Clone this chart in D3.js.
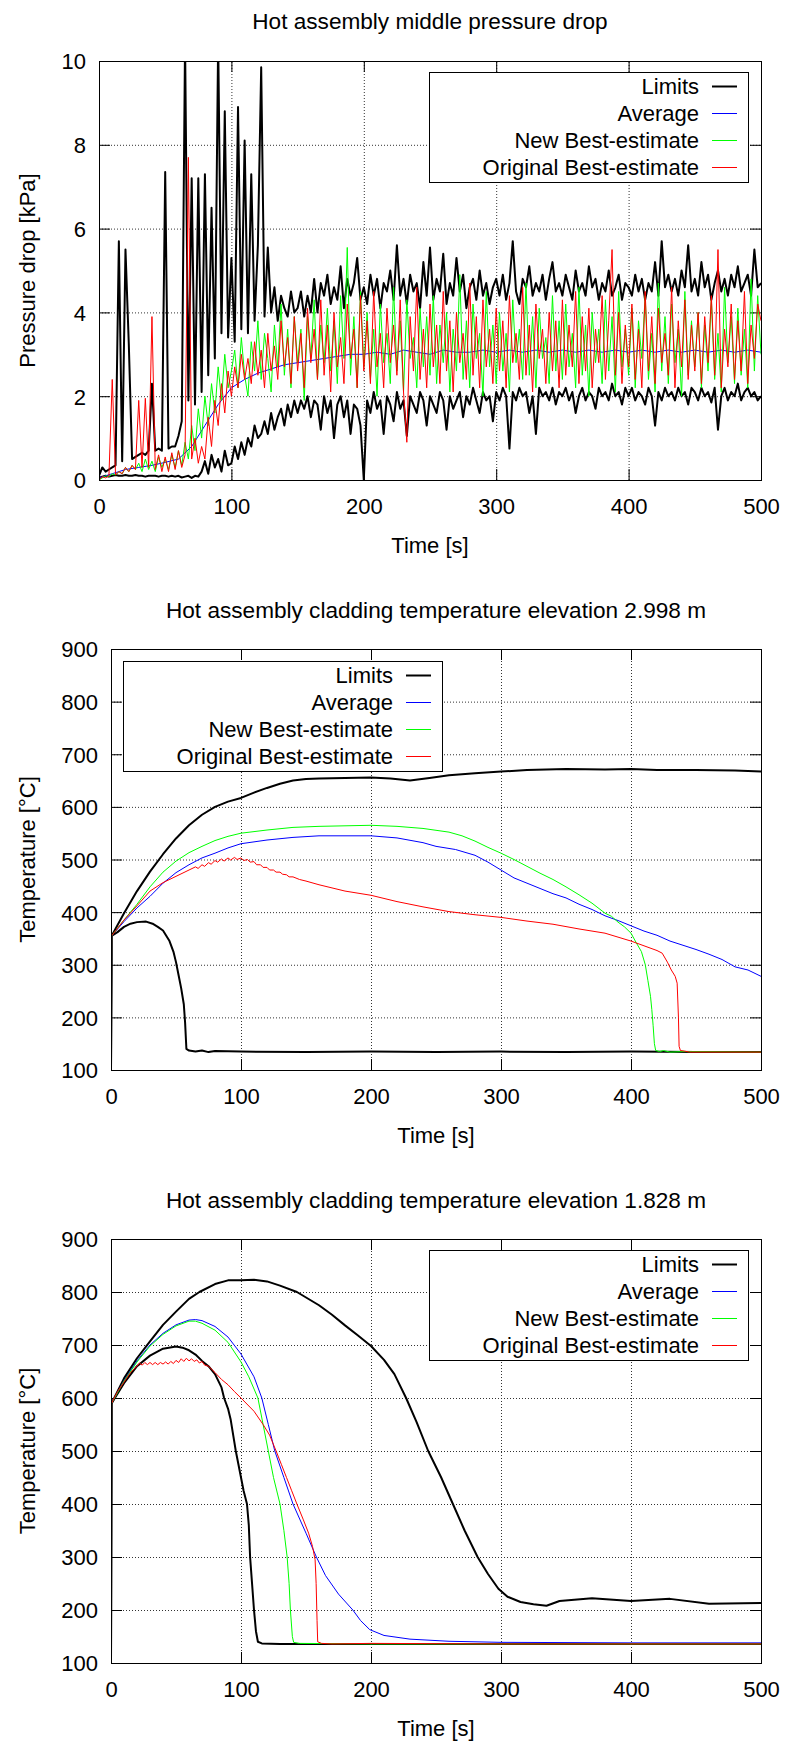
<!DOCTYPE html>
<html>
<head>
<meta charset="utf-8">
<script src="https://cdn.jsdelivr.net/npm/d3@7"></script>
<style>
  body { margin: 0; background: #fff; }
  text { font-family: "Liberation Sans", Arial, sans-serif; }
</style>
</head>
<body>
<svg id="fig" width="786" height="1742"></svg>
<script>

// LEGEND / SERIES NAMES
var seriesNames = ["Limits", "Average", "New Best-estimate", "Original Best-estimate"]

var timeTicks = [0, 100, 200, 300, 400, 500]
var dpTicks = [0, 2, 4, 6, 8, 10]
var tempTicks = [100, 200, 300, 400, 500, 600, 700, 800, 900]

/* ---------- PANEL 1 : pressure drop, one sample every 2.5 s (0..500) ---------- */

var dpTime = d3.range(0, 500.01, 2.5)   // sampling grid of the read-off values

var dpLimitsUpper = [
  0.1, 0.3, 0.2, 0.25, 0.3, 0.35, 5.7, 0.45, 5.5, 3.25, 0.5, 0.55, 0.6, 0.65, 0.6, 0.7, 2.3, 0.7, 0.75, 0.7,
  7.35, 0.75, 0.8, 0.8, 1.05, 1.4, 10.5, 1.9, 7.2, 1.8, 7.2, 2.1, 7.3, 2.5, 6.5, 2.9, 10.5, 3.5, 8.8, 3.4,
  5.3, 3.3, 8.9, 3.6, 8.1, 3.5, 7.3, 3.8, 5.6, 9.85, 3.9, 5.55, 4.0, 4.6, 3.8, 4.4, 4.1, 3.9, 4.5, 4.0,
  4.1, 4.5, 3.9, 4.4, 4.0, 4.8, 4.0, 4.7, 4.4, 4.9, 4.2, 4.6, 4.3, 5.1, 4.1, 4.8, 4.4, 4.7, 5.3, 4.3,
  4.6, 4.2, 4.9, 4.4, 4.8, 4.1, 4.7, 4.5, 5.0, 4.3, 5.6, 4.4, 4.8, 4.2, 4.9, 4.5, 4.7, 4.1, 5.2, 4.4,
  5.55, 4.3, 4.8, 4.5, 5.4, 4.2, 4.7, 4.4, 5.3, 4.5, 4.9, 4.1, 4.6, 4.8, 4.3, 5.0, 4.4, 4.7, 4.2, 4.6,
  4.8, 4.4, 4.9, 4.3, 4.7, 5.7, 4.5, 4.2, 4.8, 4.6, 5.1, 4.4, 4.7, 4.5, 4.9, 4.3, 4.8, 5.2, 4.5, 4.7,
  4.4, 4.9, 4.6, 4.3, 5.0, 4.5, 4.7, 4.4, 5.1, 4.6, 4.8, 4.3, 4.7, 4.5, 5.0, 4.4, 4.6, 4.9, 4.3, 4.7,
  4.6, 4.4, 4.9, 4.5, 4.8, 4.3, 4.7, 4.5, 5.2, 4.4, 5.7, 4.6, 4.9, 4.5, 4.8, 4.4, 5.0, 4.6, 5.6, 4.5,
  4.8, 4.4, 5.2, 4.6, 4.9, 4.3, 4.7, 5.0, 4.5, 4.8, 4.4, 4.9, 4.6, 5.1, 4.5, 4.7, 4.9, 4.4, 5.5, 4.6, 4.7
]

var dpLimitsLower = [
  0.05, 0.08, 0.1, 0.08, 0.1, 0.12, 0.1, 0.1, 0.12, 0.1, 0.1, 0.12, 0.1, 0.1, 0.08, 0.1, 0.1, 0.1, 0.08, 0.1,
  0.1, 0.08, 0.1, 0.08, 0.1, 0.06, 0.08, 0.1, 0.05, 0.1, 0.08, 0.2, 0.45, 0.15, 0.6, 0.3, 0.5, 0.2, 0.7, 0.35,
  0.4, 0.8, 0.5, 0.9, 0.6, 1.0, 0.8, 1.3, 1.0, 1.1, 1.4, 1.1, 1.6, 1.2, 1.5, 1.7, 1.3, 1.8, 1.5, 1.9,
  1.6, 1.9, 1.7, 2.0, 1.5, 1.9, 1.8, 1.2, 2.0, 1.6, 1.9, 1.0, 1.8, 2.0, 1.5, 1.9, 1.1, 1.8, 1.7, 1.3,
  0.0, 1.9, 1.6, 2.1, 1.7, 1.9, 1.1, 2.0, 1.8, 1.4, 2.1, 1.7, 1.9, 1.05, 2.0, 1.8, 1.6, 2.1, 1.9, 1.3,
  2.0, 1.8, 1.6, 2.1, 1.9, 1.2, 2.0, 1.7, 1.9, 2.1, 1.5, 2.0, 1.8, 2.2, 1.9, 1.6, 2.1, 1.9, 2.0, 1.4,
  2.1, 1.9, 2.2, 2.0, 0.75, 2.1, 1.9, 2.2, 2.0, 2.1, 1.6, 2.0, 1.1, 2.2, 2.0, 2.1, 1.9, 2.2, 1.8, 2.1,
  2.0, 2.2, 1.9, 2.1, 1.6, 2.0, 2.2, 1.9, 2.1, 2.0, 1.7, 2.2, 2.0, 2.1, 1.9, 2.3, 2.0, 2.1, 1.8, 2.2,
  2.0, 2.2, 1.9, 2.1, 2.0, 1.8, 2.2, 2.0, 1.3, 2.1, 1.9, 2.2, 2.0, 2.1, 1.9, 2.2, 2.0, 2.1, 1.8, 2.2,
  2.1, 1.9, 2.2, 2.0, 2.1, 1.85, 2.2, 1.2, 2.0, 2.2, 1.9, 2.1, 2.0, 2.3, 1.9, 2.1, 2.2, 2.0, 2.1, 1.9, 2.0
]

var dpAvgTime = [0, 10, 20, 30, 40, 50, 60, 70, 80, 90, 100, 110, 120, 130, 140, 150, 160, 170, 180, 190,
  200, 210, 220, 230, 240, 250, 260, 270, 280, 290, 300, 310, 320, 330, 340, 350, 360, 370, 380, 390,
  400, 410, 420, 430, 440, 450, 460, 470, 480, 490, 500]
var dpAverage = [0.05, 0.15, 0.25, 0.3, 0.35, 0.42, 0.5, 0.8, 1.3, 1.8, 2.2, 2.4, 2.55, 2.65, 2.75, 2.8, 2.85, 2.9, 2.95, 3.0,
  3.0, 3.05, 3.0, 3.1, 3.05, 3.0, 3.1, 3.05, 3.05, 3.1, 3.05, 3.1, 3.05, 3.1, 3.05, 3.1, 3.05, 3.1, 3.05, 3.1,
  3.05, 3.1, 3.05, 3.1, 3.05, 3.1, 3.05, 3.1, 3.05, 3.1, 3.05]

var dpNew = [
  0.0, 0.05, 0.1, 0.08, 0.15, 0.12, 0.2, 0.15, 0.3, 0.2, 0.35, 0.25, 0.4, 0.2, 0.5, 0.25, 0.45, 0.2, 0.55, 0.3,
  0.5, 0.25, 0.6, 0.3, 0.7, 0.35, 0.9, 0.5, 1.3, 0.7, 1.7, 1.0, 2.0, 1.3, 2.3, 1.6, 2.7, 1.9, 3.0, 2.2,
  2.6, 3.1, 2.2, 3.4, 2.5, 2.0, 3.3, 2.6, 3.8, 2.4, 3.5, 2.9, 2.1, 3.7, 2.7, 4.2, 2.5, 3.6, 2.2, 3.9,
  2.8, 3.6, 1.9, 3.9, 2.9, 4.3, 2.4, 3.7, 2.8, 4.1, 2.6, 3.8, 2.3, 4.4, 2.9, 5.55, 2.5, 3.9, 2.2, 4.5,
  2.7, 4.0, 2.4, 3.6, 2.0, 4.2, 2.8, 3.5, 2.3, 4.6, 2.6, 3.8, 2.1, 4.3, 2.9, 3.4, 2.2, 4.1, 2.7, 3.9,
  2.5, 4.4, 2.3, 3.7, 2.8, 4.0, 2.1, 3.6, 2.6, 4.9, 2.4, 3.8, 2.2, 4.2, 2.9, 3.5, 2.0, 4.5, 2.7, 3.7,
  2.3, 4.0, 2.6, 3.5, 2.1, 4.3, 2.8, 3.6, 2.4, 4.7, 2.5, 3.9, 2.2, 4.1, 2.9, 3.4, 2.3, 4.4, 2.6, 3.8,
  2.4, 4.2, 2.7, 3.5, 2.2, 4.6, 2.5, 3.7, 2.0, 4.0, 2.8, 3.6, 2.3, 4.3, 2.6, 3.9, 2.1, 4.5, 2.7, 3.6,
  2.5, 4.1, 2.2, 3.8, 2.9, 4.4, 2.4, 3.5, 2.1, 4.7, 2.6, 3.9, 2.3, 4.2, 2.8, 3.6, 2.0, 4.5, 2.5, 3.8,
  2.7, 4.0, 2.2, 3.7, 2.6, 4.3, 2.4, 3.5, 2.1, 4.6, 2.8, 3.9, 2.3, 4.1, 2.5, 3.6, 2.2, 4.8, 2.6, 4.4, 3.0
]

var dpOriginal = [
  0.0, 0.08, 0.05, 0.1, 2.4, 0.12, 0.2, 0.15, 0.3, 0.2, 0.35, 0.25, 1.9, 0.3, 1.95, 0.3, 3.9, 0.25, 0.6, 0.2,
  0.55, 0.2, 0.65, 0.25, 0.7, 0.3, 0.6, 7.7, 0.5, 1.0, 0.4, 0.8, 0.5, 1.5, 0.8, 1.9, 1.3, 2.3, 1.6, 2.6,
  2.0, 2.7, 2.2, 3.0, 2.4, 2.9, 2.3, 3.3, 2.5, 3.1, 2.2, 3.5, 2.6, 3.2, 2.4, 3.8, 2.7, 3.4, 2.3, 3.9,
  2.6, 3.5, 2.2, 4.1, 2.8, 3.6, 2.4, 4.3, 2.5, 3.7, 2.1, 4.0, 2.7, 3.4, 2.3, 4.2, 2.9, 3.6, 2.2, 4.4,
  2.6, 3.8, 2.3, 4.5, 2.7, 3.5, 2.2, 4.1, 2.8, 3.7, 2.5, 4.3, 2.1, 0.9, 3.9, 2.6, 4.6, 2.4, 3.6, 2.2,
  4.2, 2.7, 3.7, 2.3, 4.5, 2.6, 3.8, 2.1, 4.0, 2.8, 3.5, 2.4, 4.7, 2.5, 3.9, 2.2, 4.3, 2.7, 3.6, 2.3,
  4.1, 2.6, 3.8, 2.2, 4.4, 2.8, 3.5, 2.4, 4.6, 2.5, 3.7, 2.1, 4.2, 2.9, 3.6, 2.3, 4.0, 2.6, 3.8, 2.2,
  4.3, 2.5, 3.7, 2.7, 4.5, 2.3, 3.9, 2.6, 4.1, 2.2, 3.6, 2.8, 4.4, 2.4, 3.8, 5.5, 2.5, 4.0, 2.3, 3.7,
  2.7, 4.2, 2.4, 3.6, 2.2, 4.5, 2.6, 3.9, 2.3, 4.1, 2.8, 3.5, 2.5, 4.6, 2.2, 3.8, 2.7, 4.3, 2.4, 3.7,
  2.6, 4.0, 2.3, 3.9, 2.8, 4.4, 2.5, 5.5, 2.2, 3.6, 2.7, 4.2, 2.4, 3.8, 2.6, 4.5, 2.3, 3.7, 2.9, 4.2, 3.8
]

/* ---------- PANEL 2 : cladding temperature 2.998 m  [time, degC] ---------- */

var t2LimitsUpper = [[0,100],[0.5,355],[10,398],[20,440],[30,477],[40,510],[50,540],[60,565],[70,585],[80,600],
  [90,610],[100,617],[110,627],[120,636],[130,644],[140,650],[150,653],[160,654],[180,655],[200,656],[215,654],
  [230,650],[245,655],[260,660],[280,664],[300,667],[320,670],[350,672],[380,671],[400,672],[420,670],[450,670],
  [480,669],[500,667]]
var t2LimitsLower = [[0,100],[0.5,355],[5,362],[10,372],[15,378],[20,381],[27,382],[32,378],[36,372],[40,365],
  [45,345],[48,325],[50,305],[52,280],[54,255],[56,225],[57,190],[58,140],[60,137],[65,135],[70,137],[75,134],
  [80,136],[100,135],[150,134],[200,135],[250,134],[300,135],[350,134],[400,135],[450,134],[500,134]]
var t2Average = [[0,100],[0.5,355],[10,382],[20,408],[30,430],[40,455],[50,475],[60,490],[70,503],[80,512],
  [90,522],[100,530],[120,537],[140,542],[160,545],[180,545],[200,545],[220,541],[240,532],[250,525],[265,519],
  [280,508],[290,495],[300,480],[310,465],[320,455],[330,445],[340,435],[350,427],[360,415],[370,405],[380,393],
  [390,384],[400,374],[410,364],[420,356],[430,345],[440,337],[450,329],[460,320],[470,310],[480,296],[490,290],
  [500,278]]
var t2New = [[0,100],[0.5,355],[10,385],[20,415],[30,448],[40,476],[50,497],[60,513],[70,525],[80,536],
  [90,544],[100,550],[120,556],[140,561],[160,563],[180,564],[200,565],[220,563],[240,559],[260,552],[270,545],
  [280,535],[290,523],[300,512],[310,500],[320,487],[330,474],[340,462],[350,448],[360,433],[370,417],[380,398],
  [385,392],[390,381],[395,372],[400,360],[404,342],[408,325],[411,300],[413,270],[415,240],[416,215],[417,185],
  [418,150],[419,137],[422,135],[425,137],[430,134],[440,135],[500,134]]
var t2Original = [[0,100],[0.5,355],[10,385],[20,412],[30,440],[40,456],[50,468],[60,480],[65,486],[67,483],
  [70,490],[72,487],[75,494],[77,491],[80,498],[82,495],[85,501],[87,497],[90,503],[92,499],[95,504],[97,500],
  [100,503],[102,498],[105,500],[107,495],[110,496],[112,490],[115,490],[117,485],[120,485],[122,480],[125,480],
  [127,476],[130,476],[132,472],[135,471],[137,467],[140,467],[145,462],[150,459],[160,452],[170,446],[180,440],
  [200,432],[220,420],[240,410],[260,401],[280,395],[300,390],[320,383],[340,377],[360,368],[380,360],[400,345],
  [410,336],[420,327],[424,322],[428,305],[431,290],[434,278],[435.5,265],[436.5,200],[437,145],[438,137],
  [441,136],[445,134],[500,134]]

/* ---------- PANEL 3 : cladding temperature 1.828 m  [time, degC] ---------- */

var t3LimitsUpper = [[0,100],[0.5,590],[10,637],[20,675],[30,707],[40,738],[50,763],[60,787],[68,800],[80,815],
  [90,822],[100,822],[110,823],[120,820],[130,812],[143,800],[160,775],[170,757],[180,737],[190,718],[200,698],
  [210,672],[218,645],[227,600],[235,555],[244,500],[254,450],[263,400],[272,350],[282,300],[290,268],[298,240],
  [305,225],[315,215],[325,211],[335,208],[345,217],[370,222],[400,217],[430,221],[460,212],[500,213]]
var t3LimitsLower = [[0,100],[0.5,590],[10,628],[20,660],[30,680],[40,693],[50,697],[55,695],[60,690],[65,682],
  [70,670],[75,660],[80,645],[85,620],[87,600],[90,580],[92,560],[94,530],[96,500],[98,475],[100,450],[102,425],
  [104.6,400],[106,360],[107,300],[108.5,250],[110,200],[111.5,160],[113,140],[116,137],[130,136],[200,136],
  [300,136],[500,136]]
var t3Average = [[0,100],[0.5,590],[10,633],[20,670],[30,700],[40,722],[50,738],[60,747],[65,748],[70,746],
  [80,735],[90,715],[100,683],[110,640],[116,600],[121,550],[126,500],[133,450],[140,400],[150,345],[158,300],
  [165,265],[175,230],[186,200],[192,180],[199,163],[210,152],[230,145],[260,141],[300,139],[400,138],[500,138]]
var t3New = [[0,100],[0.5,590],[10,632],[20,668],[30,698],[40,720],[50,736],[60,745],[65,745],[70,741],
  [80,728],[90,705],[100,668],[106,640],[113,600],[117,550],[121,500],[125,450],[130,400],[133,350],[135.5,300],
  [137,250],[138,200],[139.5,150],[140.5,139],[145,137],[200,136],[500,136]]
var t3Original = [[0,100],[0.5,590],[5,612],[10,630],[15,648],[20,660],[22,666],[24,662],[26,667],[28,663],
  [30,667],[32,663],[34,667],[36,663],[38,667],[40,664],[42,668],[44,664],[46,669],[48,665],[50,671],[52,667],
  [54,674],[56,669],[58,675],[60,670],[62,674],[64,669],[66,672],[68,666],[70,669],[72,662],[75,660],[80,648],
  [85,635],[90,625],[95,612],[100,600],[110,575],[117,550],[122,530],[127,500],[131,475],[135,450],[139,425],
  [143,400],[148,370],[152,345],[155,320],[157,295],[157.8,250],[158.5,180],[159,140],[162,137],[170,136],
  [200,137],[300,136],[500,136]]


// STYLES (kept apart from the data)
var colors = ["#000000", "#0000ff", "#00ff00", "#ff0000"]
var widths = [2, 1, 1, 1]
var FS = 22

var svg = d3.select("#fig")

function zip(t, v) {
  var out = []
  for (i = 0; i < t.length; i++) out.push([t[i], v[i]])
  return out
}

function panel(p, k) {
  var x = d3.scaleLinear().domain([0, 500]).range([p.left, p.right])
  var y = d3.scaleLinear().domain([p.yTicks[0], p.yTicks[p.yTicks.length - 1]]).range([p.bottom, p.top])
  var iw = p.right - p.left, ih = p.bottom - p.top
  var g = svg.append("g")

  // GRID (dotted)
  g.append("g").attr("class", "grid").attr("transform", "translate(0," + p.bottom + ")")
    .call(d3.axisBottom(x).tickValues(timeTicks.slice(1, -1)).tickSize(-ih).tickFormat(""))
  g.append("g").attr("class", "grid").attr("transform", "translate(" + p.left + ",0)")
    .call(d3.axisLeft(y).tickValues(p.yTicks.slice(1, -1)).tickSize(-iw).tickFormat(""))
  g.selectAll(".grid .domain").remove()
  g.selectAll(".grid line").attr("stroke", "#333").attr("stroke-dasharray", "1,2")

  // TICK MARKS on all four sides (inward)
  var tl = 11
  var tk = [
    ["translate(0," + p.bottom + ")", d3.axisBottom(x).tickValues(timeTicks)],
    ["translate(0," + p.top + ")", d3.axisTop(x).tickValues(timeTicks)],
    ["translate(" + p.left + ",0)", d3.axisLeft(y).tickValues(p.yTicks)],
    ["translate(" + p.right + ",0)", d3.axisRight(y).tickValues(p.yTicks)]
  ]
  tk.forEach(function (a) {
    g.append("g").attr("class", "tk").attr("transform", a[0]).call(a[1].tickSize(-tl).tickFormat(""))
  })
  g.selectAll(".tk .domain").remove()
  g.selectAll(".tk line").attr("stroke", "#000")

  // TICK LABELS
  var xa = g.append("g").attr("transform", "translate(0," + p.bottom + ")")
    .call(d3.axisBottom(x).tickValues(timeTicks).tickSize(0).tickPadding(18))
  var ya = g.append("g").attr("transform", "translate(" + p.left + ",0)")
    .call(d3.axisLeft(y).tickValues(p.yTicks).tickSize(0).tickPadding(13))
  ;[xa, ya].forEach(function (a) {
    a.select(".domain").remove()
    a.selectAll("text").attr("fill", "#000").style("font-size", FS + "px")
      .style("font-family", '"Liberation Sans", Arial, sans-serif')
  })
  ya.selectAll("text").attr("dy", "0.36em")

  // CURVES
  g.append("clipPath").attr("id", "clip" + k).append("rect")
    .attr("x", p.left).attr("y", p.top).attr("width", iw).attr("height", ih)
  var line = d3.line().x(function (d) { return x(d[0]) }).y(function (d) { return y(d[1]) })
  var curves = g.append("g").attr("clip-path", "url(#clip" + k + ")")
  p.lines.forEach(function (l) {
    curves.append("path").datum(l.data)
      .attr("fill", "none")
      .attr("stroke", colors[l.s])
      .attr("stroke-width", widths[l.s])
      .attr("stroke-linejoin", "round")
      .attr("d", line)
  })

  // LEGEND
  var lg = g.append("g").attr("transform", "translate(" + p.legend[0] + "," + p.legend[1] + ")")
  lg.append("rect").attr("x", 0.5).attr("y", 0.5).attr("width", 319).attr("height", 110)
    .attr("fill", "#fff").attr("stroke", "#000")
  seriesNames.forEach(function (name, i) {
    var cy = 14 + 27 * i
    lg.append("text").attr("x", 270).attr("y", cy + 8).attr("text-anchor", "end")
      .style("font-size", FS + "px").text(name)
    lg.append("line").attr("x1", 283).attr("x2", 308).attr("y1", cy + 0.5).attr("y2", cy + 0.5)
      .attr("stroke", colors[i]).attr("stroke-width", widths[i])
  })

  // BORDER
  g.append("rect").attr("x", p.left + 0.5).attr("y", p.top + 0.5).attr("width", iw).attr("height", ih)
    .attr("fill", "none").attr("stroke", "#000")

  // TITLES
  g.append("text").attr("x", (p.left + p.right) / 2).attr("y", p.top - p.titleGap)
    .attr("text-anchor", "middle").style("font-size", "22.6px").text(p.title)
  g.append("text").attr("x", (p.left + p.right) / 2).attr("y", p.bottom + 73)
    .attr("text-anchor", "middle").style("font-size", FS + "px").text("Time [s]")
  g.append("text").attr("transform", "translate(35," + ((p.top + p.bottom) / 2) + ") rotate(-90)")
    .attr("text-anchor", "middle").style("font-size", FS + "px").text(p.yLabel)
}

panel({
  left: 99, right: 761, top: 61, bottom: 480, titleGap: 32,
  yTicks: dpTicks,
  title: "Hot assembly middle pressure drop",
  yLabel: "Pressure drop [kPa]",
  legend: [429, 72],
  lines: [
    { s: 0, data: zip(dpTime, dpLimitsUpper) },
    { s: 0, data: zip(dpTime, dpLimitsLower) },
    { s: 1, data: zip(dpAvgTime, dpAverage) },
    { s: 2, data: zip(dpTime, dpNew) },
    { s: 3, data: zip(dpTime, dpOriginal) }
  ]
}, 1)

panel({
  left: 111, right: 761, top: 649, bottom: 1070, titleGap: 31,
  yTicks: tempTicks,
  title: "Hot assembly cladding temperature elevation 2.998 m",
  yLabel: "Temperature [°C]",
  legend: [123, 661],
  lines: [
    { s: 0, data: t2LimitsUpper },
    { s: 0, data: t2LimitsLower },
    { s: 1, data: t2Average },
    { s: 2, data: t2New },
    { s: 3, data: t2Original }
  ]
}, 2)

panel({
  left: 111, right: 761, top: 1239, bottom: 1663, titleGap: 31,
  yTicks: tempTicks,
  title: "Hot assembly cladding temperature elevation 1.828 m",
  yLabel: "Temperature [°C]",
  legend: [429, 1250],
  lines: [
    { s: 0, data: t3LimitsUpper },
    { s: 0, data: t3LimitsLower },
    { s: 1, data: t3Average },
    { s: 2, data: t3New },
    { s: 3, data: t3Original }
  ]
}, 3)

</script>
</body>
</html>
